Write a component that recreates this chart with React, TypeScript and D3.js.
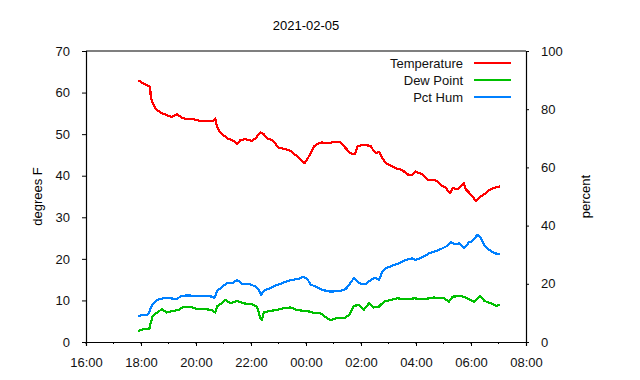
import React, { useEffect, useRef } from 'react';
import * as d3 from 'd3';

const title = '2021-02-05';
const leftLabel = 'degrees F';
const rightLabel = 'percent';
const xTickLabels = ['16:00', '18:00', '20:00', '22:00', '00:00', '02:00', '04:00', '06:00', '08:00'];
const leftTicks = [0, 10, 20, 30, 40, 50, 60, 70];
const rightTicks = [0, 20, 40, 60, 80, 100];

const tempTimes = ['17:54', '18:05', '18:16', '18:20', '18:21', '18:24', '18:31', '18:42', '18:56', '19:07', '19:18', '19:29', '19:40', '19:55', '20:09', '20:24', '20:38', '20:42', '20:46', '20:53', '21:08', '21:19', '21:30', '21:37', '21:48', '22:02', '22:10', '22:20', '22:28', '22:35', '22:46', '23:00', '23:15', '23:26', '23:37', '23:48', '23:57', '00:06', '00:17', '00:28', '00:35', '00:50', '01:04', '01:15', '01:26', '01:37', '01:47', '01:52', '02:03', '02:21', '02:28', '02:34', '02:39', '02:47', '02:54', '03:05', '03:16', '03:30', '03:41', '03:52', '03:59', '04:14', '04:25', '04:39', '04:47', '04:54', '05:05', '05:14', '05:20', '05:31', '05:38', '05:44', '05:49', '05:57', '06:03', '06:11', '06:18', '06:32', '06:43', '06:54', '07:03'];
const tempValues = [63.0, 62.2, 61.6, 61.4, 59.4, 57.8, 56.2, 55.2, 54.6, 54.1, 54.8, 54.0, 53.6, 53.6, 53.2, 53.2, 53.2, 53.8, 51.8, 50.4, 49.0, 48.6, 47.6, 48.6, 48.8, 48.4, 49.0, 50.4, 50.0, 49.0, 48.6, 46.8, 46.4, 46.0, 45.0, 43.9, 43.0, 44.6, 47.0, 47.8, 48.0, 47.8, 48.2, 48.0, 46.7, 45.4, 45.2, 47.0, 47.4, 47.2, 45.9, 45.4, 45.8, 44.2, 43.0, 42.4, 41.8, 41.4, 40.3, 40.2, 41.0, 40.3, 39.0, 39.0, 38.7, 37.8, 37.1, 35.8, 37.0, 36.8, 37.4, 38.2, 36.7, 35.8, 35.0, 33.9, 34.7, 35.8, 36.8, 37.2, 37.4];

const dewTimes = ['17:54', '18:05', '18:18', '18:21', '18:25', '18:35', '18:46', '18:56', '19:11', '19:22', '19:33', '19:47', '20:02', '20:20', '20:35', '20:42', '20:47', '20:57', '21:04', '21:15', '21:30', '21:44', '22:02', '22:12', '22:17', '22:20', '22:24', '22:28', '22:42', '22:57', '23:11', '23:26', '23:41', '23:55', '00:10', '00:17', '00:32', '00:46', '00:54', '01:08', '01:23', '01:34', '01:45', '01:55', '02:06', '02:17', '02:28', '02:39', '02:50', '03:05', '03:19', '03:41', '03:56', '04:18', '04:39', '05:01', '05:12', '05:20', '05:38', '05:52', '06:07', '06:20', '06:29', '06:43', '06:54', '07:04'];
const dewValues = [2.6, 3.1, 3.1, 4.5, 6.1, 7.1, 7.9, 7.1, 7.5, 7.7, 8.5, 8.5, 7.9, 7.9, 7.7, 7.1, 8.7, 9.3, 10.1, 9.3, 9.9, 9.3, 9.1, 8.5, 7.3, 5.7, 5.3, 7.1, 7.5, 7.7, 8.1, 8.3, 7.7, 7.5, 7.3, 7.0, 6.9, 5.7, 5.3, 5.8, 5.7, 6.5, 8.7, 8.9, 7.7, 9.3, 8.3, 8.5, 9.7, 10.1, 10.5, 10.3, 10.5, 10.3, 10.7, 10.5, 9.7, 10.9, 11.1, 10.5, 9.7, 11.1, 9.9, 9.3, 8.7, 8.9];

const humTimes = ['17:54', '18:16', '18:21', '18:27', '18:38', '18:49', '19:04', '19:18', '19:29', '19:47', '20:02', '20:17', '20:35', '20:40', '20:46', '20:57', '21:08', '21:19', '21:30', '21:41', '21:59', '22:10', '22:17', '22:22', '22:28', '22:42', '22:57', '23:11', '23:26', '23:41', '23:55', '00:03', '00:10', '00:21', '00:35', '00:54', '01:12', '01:26', '01:34', '01:45', '01:52', '02:03', '02:10', '02:21', '02:32', '02:39', '02:47', '02:54', '03:08', '03:23', '03:38', '03:52', '03:59', '04:14', '04:29', '04:39', '04:54', '05:09', '05:16', '05:25', '05:34', '05:45', '05:56', '06:03', '06:14', '06:22', '06:29', '06:40', '06:51', '07:03'];
const humValues = [9.0, 9.5, 11.6, 13.3, 14.7, 15.0, 15.0, 14.8, 15.9, 16.0, 15.7, 15.9, 15.6, 15.0, 17.5, 19.0, 20.2, 20.2, 21.3, 20.0, 19.8, 19.0, 17.9, 16.2, 17.6, 18.5, 19.6, 20.4, 21.3, 21.6, 22.4, 21.6, 19.8, 19.0, 17.9, 17.3, 17.5, 18.1, 19.6, 22.1, 20.7, 19.8, 19.8, 21.3, 22.1, 21.3, 24.2, 25.3, 26.2, 27.0, 28.2, 28.8, 28.2, 29.1, 30.5, 31.0, 31.9, 33.1, 34.3, 33.6, 33.9, 32.2, 34.3, 34.7, 36.8, 35.6, 33.3, 31.6, 30.5, 30.2];

const seriesNames = ['Temperature', 'Dew Point', 'Pct Hum'];
const seriesColors = ['#ff0000', '#00c000', '#0080ff'];

// times before noon belong to the next morning
const parseClock = (s: string) => {
  const [h, m] = s.split(':').map(Number);
  return new Date(2021, 1, h < 12 ? 6 : 5, h, m);
};

interface Pt {
  t: Date;
  v: number;
}

export default function App() {
  const svgRef = useRef<SVGSVGElement>(null);

  useEffect(() => {
    if (!svgRef.current) return;
    const svg = d3.select(svgRef.current);
    svg.selectAll('*').remove();

    const margin = { top: 51, right: 114, bottom: 38, left: 86 };
    const W = 640;
    const H = 380;
    const font = '"Liberation Sans", Arial, sans-serif';

    const x = d3
      .scaleTime()
      .domain([new Date(2021, 1, 5, 16, 0), new Date(2021, 1, 6, 8, 0)])
      .range([margin.left, W - margin.right]);
    const yL = d3.scaleLinear().domain([0, 70]).range([H - margin.bottom, margin.top]);
    const yR = d3.scaleLinear().domain([0, 100]).range([H - margin.bottom, margin.top]);

    const g = svg.append('g').attr('font-family', font).attr('font-size', 13);

    // bottom axis: 2h labelled ticks, hourly minor ticks
    const xAxis = g
      .append('g')
      .attr('transform', `translate(0,${H - margin.bottom})`)
      .call(
        d3
          .axisBottom(x)
          .ticks(d3.timeHour.every(2))
          .tickSize(4)
          .tickPadding(12)
          .tickFormat((d, i) => xTickLabels[i])
      );
    xAxis
      .append('g')
      .selectAll('line')
      .data(d3.timeHour.every(1)!.range(x.domain()[0], x.domain()[1]))
      .enter()
      .append('line')
      .attr('x1', (d) => x(d))
      .attr('x2', (d) => x(d))
      .attr('y1', 0)
      .attr('y2', 2)
      .attr('stroke', '#000');

    g.append('g')
      .attr('transform', `translate(${margin.left},0)`)
      .call(d3.axisLeft(yL).tickValues(leftTicks).tickSize(4).tickPadding(12));

    g.append('g')
      .attr('transform', `translate(${W - margin.right},0)`)
      .call(d3.axisRight(yR).tickValues(rightTicks).tickSize(3).tickPadding(12));

    g.selectAll('.domain').attr('stroke', '#000').attr('stroke-width', 1.2);
    g.selectAll('.tick text').attr('font-size', 13).attr('font-family', font).attr('fill', '#111');
    g.selectAll('.tick line').attr('stroke', '#000');

    // top border
    g.append('line')
      .attr('x1', margin.left)
      .attr('x2', W - margin.right)
      .attr('y1', margin.top)
      .attr('y2', margin.top)
      .attr('stroke', '#000')
      .attr('stroke-width', 1.2);

    g.append('text')
      .attr('x', (margin.left + W - margin.right) / 2)
      .attr('y', 30)
      .attr('text-anchor', 'middle')
      .text(title);

    g.append('text')
      .attr('transform', `translate(42,${(margin.top + H - margin.bottom) / 2}) rotate(-90)`)
      .attr('text-anchor', 'middle')
      .text(leftLabel);

    g.append('text')
      .attr('transform', `translate(590,${(margin.top + H - margin.bottom) / 2}) rotate(-90)`)
      .attr('text-anchor', 'middle')
      .text(rightLabel);

    const series: { pts: Pt[]; y: d3.ScaleLinear<number, number> }[] = [
      { pts: tempTimes.map((t, i) => ({ t: parseClock(t), v: tempValues[i] })), y: yL },
      { pts: dewTimes.map((t, i) => ({ t: parseClock(t), v: dewValues[i] })), y: yL },
      { pts: humTimes.map((t, i) => ({ t: parseClock(t), v: humValues[i] })), y: yR },
    ];

    series.forEach((s, i) => {
      const line = d3
        .line<Pt>()
        .x((d) => x(d.t))
        .y((d) => s.y(d.v));
      g.append('path')
        .datum(s.pts)
        .attr('fill', 'none')
        .attr('stroke', seriesColors[i])
        .attr('stroke-width', 2.2)
        .attr('stroke-linejoin', 'round')
        .attr('shape-rendering', 'crispEdges')
        .attr('d', line);
    });

    // legend
    const legend = g
      .selectAll('.legend-item')
      .data(seriesNames)
      .enter()
      .append('g')
      .attr('class', 'legend-item')
      .attr('transform', (d, i) => `translate(0,${63 + i * 17})`);
    legend
      .append('text')
      .attr('x', 463)
      .attr('dy', '0.35em')
      .attr('text-anchor', 'end')
      .attr('fill', '#111')
      .text((d) => d);
    legend
      .append('line')
      .attr('x1', 474)
      .attr('x2', 511)
      .attr('stroke', (d, i) => seriesColors[i])
      .attr('stroke-width', 2);
  }, []);

  return (
    <svg
      ref={svgRef}
      width={640}
      height={380}
      style={{ position: 'absolute', left: 0, top: 0, background: '#fff' }}
    />
  );
}
